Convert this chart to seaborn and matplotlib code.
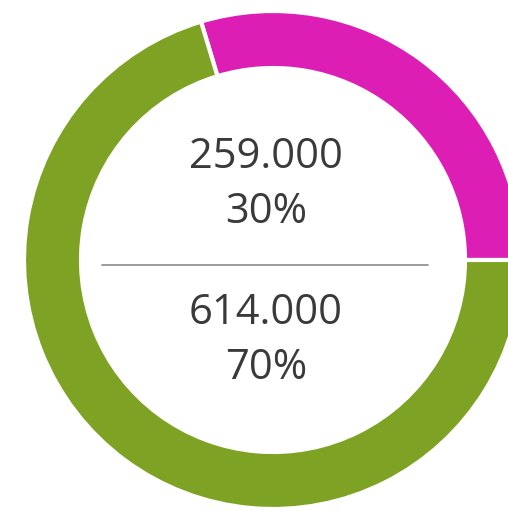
import numpy as np
import seaborn as sns
import matplotlib.pyplot as plt

# values shown in the donut
labels = ['A', 'B']
values = [259000, 614000]
value_text = ['259.000', '614.000']
pct_text = ['30%', '70%']
colors = ['#DC1EB4', '#7EA324']

sns.set_style('white')
plt.rcParams['font.family'] = ['Open Sans', 'DejaVu Sans']

W, H = 508, 511
fig = plt.figure(figsize=(W / 100, H / 100), dpi=100)
ax = fig.add_axes([0, 0, 1, 1])

cx, cy = 273, H - 260
R = 249
ring = 57

pal = sns.color_palette(colors)
ax.pie(values, colors=pal, startangle=0, counterclock=True,
       center=(cx, cy), radius=R,
       wedgeprops=dict(width=ring, edgecolor='white', linewidth=3))

tx = 266
txt_color = '#3a3a3a'
fs = 30
ax.text(tx, H - 157, value_text[0], ha='center', va='center', fontsize=fs, color=txt_color)
ax.text(tx, H - 212, pct_text[0], ha='center', va='center', fontsize=fs, color=txt_color)
ax.text(tx, H - 313, value_text[1], ha='center', va='center', fontsize=fs, color=txt_color)
ax.text(tx, H - 368, pct_text[1], ha='center', va='center', fontsize=fs, color=txt_color)
ax.plot([102, 428], [H - 265, H - 265], color='#8a8a8a', lw=1.2)

ax.set_xlim(0, W)
ax.set_ylim(0, H)
ax.set_aspect('equal')
ax.axis('off')

plt.savefig('out.png', dpi=100)
plt.close()
